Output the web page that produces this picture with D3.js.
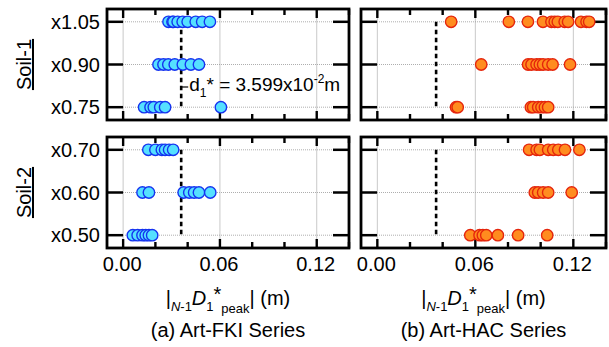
<!DOCTYPE html>
<meta charset="utf-8">
<style>
body { margin: 0; background: #fff; }
text { font-family: "Liberation Sans", Arial, sans-serif; fill: #000; }
</style>
<body>
<script src="https://cdn.jsdelivr.net/npm/d3@7"></script>
<script>
// rows (top -> bottom) for each soil
var soil1Rows = ["x1.05", "x0.90", "x0.75"];
var soil2Rows = ["x0.70", "x0.60", "x0.50"];
var xTicks = [0, 0.06, 0.12];
var d1Star = 0.03599;

// Art-FKI series, |N-1 D1* peak| (m)
var fkiSoil1 = [
  [0.0281, 0.0306, 0.0312, 0.0338, 0.0369, 0.0400, 0.0450, 0.0490, 0.0538],
  [0.0219, 0.0250, 0.0280, 0.0320, 0.0370, 0.0420, 0.0470],
  [0.0130, 0.0170, 0.0190, 0.0230, 0.0260, 0.0606]
];
var fkiSoil2 = [
  [0.0156, 0.0200, 0.0240, 0.0260, 0.0285, 0.0310],
  [0.0120, 0.0160, 0.0375, 0.0410, 0.0440, 0.0470, 0.0540],
  [0.0060, 0.0090, 0.0120, 0.0140, 0.0160, 0.0180]
];
// Art-HAC series
var hacSoil1 = [
  [0.0452, 0.0805, 0.0922, 0.1014, 0.1066, 0.1086, 0.1105, 0.1147, 0.1168, 0.1247, 0.1281, 0.1297],
  [0.0636, 0.0923, 0.0944, 0.0975, 0.0995, 0.1015, 0.1046, 0.1073, 0.1180],
  [0.0482, 0.0492, 0.0940, 0.0954, 0.0985, 0.1005, 0.1026, 0.1046]
];
var hacSoil2 = [
  [0.0929, 0.0975, 0.0995, 0.1046, 0.1077, 0.1108, 0.1149, 0.1237],
  [0.0964, 0.0985, 0.1015, 0.1046, 0.1190],
  [0.0569, 0.0626, 0.0646, 0.0667, 0.0738, 0.0862, 0.1040]
];

var W = 609, H = 347;
var svg = d3.select("body").append("svg").attr("width", W).attr("height", H);

var cols = [{x0: 107, x1: 349}, {x0: 361, x1: 606}];
var rowsPos = [{y0: 9, y1: 120}, {y0: 137, y1: 248}];
var blue = {fill: "#55E0FF", stroke: "#1533F0"};
var orange = {fill: "#FF8C1F", stroke: "#E5250C"};

function panel(ci, ri, cats, data, col) {
  var c = cols[ci], r = rowsPos[ri];
  var x = d3.scaleLinear().domain([-0.01, 0.14]).range([c.x0, c.x1]);
  var y = d3.scalePoint().domain(cats).range([r.y0, r.y1]).padding(0.3);
  var g = svg.append("g");

  // grid
  g.selectAll(".gx").data(xTicks).enter().append("line")
    .attr("x1", d => x(d)).attr("x2", d => x(d))
    .attr("y1", r.y0).attr("y2", r.y1)
    .attr("stroke", "#bbb").attr("stroke-width", 0.8);
  g.selectAll(".gy").data(cats).enter().append("line")
    .attr("x1", c.x0).attr("x2", c.x1)
    .attr("y1", d => y(d)).attr("y2", d => y(d))
    .attr("stroke", "#999").attr("stroke-width", 0.8).attr("stroke-dasharray", "1,1");

  // ticks inside the frame
  var minor = d3.range(0, 0.1401, 0.02);
  minor.forEach(function(t) {
    var major = Math.abs(t / 0.06 - Math.round(t / 0.06)) < 1e-6;
    var len = major ? 9 : 6;
    g.append("line").attr("x1", x(t)).attr("x2", x(t)).attr("y1", r.y0).attr("y2", r.y0 + len)
      .attr("stroke", "#000").attr("stroke-width", 2.4);
    g.append("line").attr("x1", x(t)).attr("x2", x(t)).attr("y1", r.y1).attr("y2", r.y1 - len)
      .attr("stroke", "#000").attr("stroke-width", 2.4);
  });
  cats.forEach(function(cat) {
    g.append("line").attr("x1", c.x0).attr("x2", c.x0 + 16).attr("y1", y(cat)).attr("y2", y(cat))
      .attr("stroke", "#000").attr("stroke-width", 2.5);
    g.append("line").attr("x1", c.x1).attr("x2", c.x1 - 16).attr("y1", y(cat)).attr("y2", y(cat))
      .attr("stroke", "#000").attr("stroke-width", 2.5);
  });

  // d1* dashed line
  g.append("line").attr("x1", x(d1Star)).attr("x2", x(d1Star))
    .attr("y1", y(cats[0])).attr("y2", y(cats[2]))
    .attr("stroke", "#000").attr("stroke-width", 2.6).attr("stroke-dasharray", "4.5,3.5");

  // points
  data.forEach(function(vals, i) {
    g.selectAll(null).data(vals).enter().append("circle")
      .attr("cx", d => x(d)).attr("cy", y(cats[i])).attr("r", 5.7)
      .attr("fill", col.fill).attr("stroke", col.stroke).attr("stroke-width", 1.4);
  });

  // frame
  g.append("rect").attr("x", c.x0).attr("y", r.y0)
    .attr("width", c.x1 - c.x0).attr("height", r.y1 - r.y0)
    .attr("fill", "none").attr("stroke", "#000").attr("stroke-width", 2.8);

  // y labels on left column
  if (ci === 0) {
    g.selectAll(".yl").data(cats).enter().append("text")
      .attr("x", 100).attr("y", d => y(d) + 7)
      .attr("text-anchor", "end").attr("font-size", 20)
      .text(d => d);
  }
  // x tick labels on bottom row
  if (ri === 1) {
    g.selectAll(".xl").data(xTicks).enter().append("text")
      .attr("x", d => x(d) - 1).attr("y", r.y1 + 23)
      .attr("text-anchor", "middle").attr("font-size", 20)
      .text(d => d.toFixed(2));
  }
  return {x: x, y: y};
}

var p1 = panel(0, 0, soil1Rows, fkiSoil1, blue);
panel(1, 0, soil1Rows, hacSoil1, orange);
panel(0, 1, soil2Rows, fkiSoil2, blue);
panel(1, 1, soil2Rows, hacSoil2, orange);

// annotation of d1*
var ax = p1.x(d1Star);
svg.append("line").attr("x1", ax).attr("x2", ax + 7).attr("y1", 87).attr("y2", 87)
  .attr("stroke", "#000").attr("stroke-width", 1.2);
var ann = svg.append("text").attr("x", ax + 8).attr("y", 91).attr("font-size", 19);
ann.append("tspan").text("d");
ann.append("tspan").attr("font-size", 12).attr("dy", 6).text("1");
ann.append("tspan").attr("dy", -6).text("* = 3.599x10");
ann.append("tspan").attr("font-size", 12).attr("dy", -8).text("-2");
ann.append("tspan").attr("dy", 8).text("m");

// row-group labels
[["Soil-1", 0], ["Soil-2", 1]].forEach(function(s) {
  var r = rowsPos[s[1]];
  var cy = (r.y0 + r.y1) / 2;
  svg.append("text").attr("transform", "translate(31," + cy + ") rotate(-90)")
    .attr("text-anchor", "middle").attr("font-size", 20)
    .attr("text-decoration", "underline").text(s[0]);
});

// axis titles and captions
var captions = ["(a) Art-FKI Series", "(b) Art-HAC Series"];
cols.forEach(function(c, i) {
  var cx = (c.x0 + c.x1) / 2;
  var t = svg.append("text").attr("x", cx).attr("y", 305)
    .attr("text-anchor", "middle").attr("font-size", 20);
  t.append("tspan").text("|");
  t.append("tspan").attr("font-size", 13).attr("font-style", "italic").attr("dy", 6).text("N");
  t.append("tspan").attr("font-size", 13).text("-1");
  t.append("tspan").attr("font-style", "italic").attr("dy", -6).text("D");
  t.append("tspan").attr("font-size", 13).attr("dy", 6).text("1");
  t.append("tspan").attr("dy", -10).text("*");
  t.append("tspan").attr("font-size", 13).attr("dy", 12).text("peak");
  t.append("tspan").attr("dy", -8).text("| (m)");

  svg.append("text").attr("x", cx).attr("y", 337)
    .attr("text-anchor", "middle").attr("font-size", 20).text(captions[i]);
});
</script>
</body>
